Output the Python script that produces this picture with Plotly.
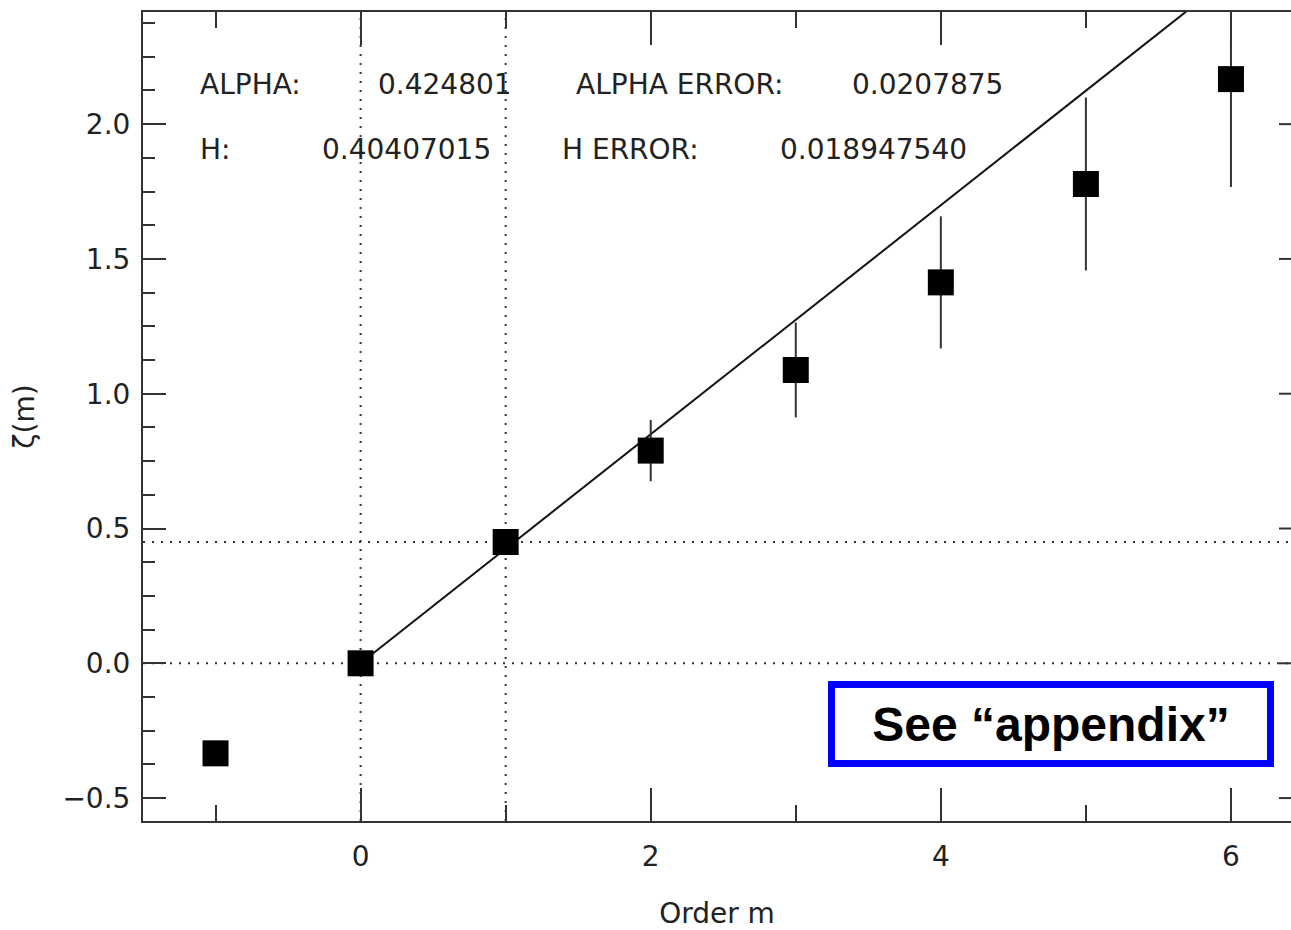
import plotly.graph_objects as go

# Data
order_m = [-1, 0, 1, 2, 3, 4, 5, 6]
zeta_m = [-0.334, 0.0, 0.450, 0.789, 1.088, 1.413, 1.778, 2.167]
zeta_err = [0.0, 0.0, 0.03, 0.114, 0.176, 0.245, 0.321, 0.400]

alpha = 0.424801
alpha_err = 0.0207875
h_val = 0.40407015
h_err = 0.018947540

fit_x = [0, 6.414]
fit_y = [alpha * v for v in fit_x]

x_range = [-1.5, 6.414]
y_range = [-0.585, 2.416]
y_major = [-0.5, 0.0, 0.5, 1.0, 1.5, 2.0]

FONT = "DejaVu Sans, sans-serif"
BOLD = "Liberation Sans, Arial, sans-serif"
INK = "#222222"
AX = "#333333"
FS = 28

fig = go.Figure()

fig.add_trace(go.Scatter(
    x=fit_x, y=fit_y, mode="lines",
    line=dict(color="#111111", width=2),
    showlegend=False, hoverinfo="skip",
))

fig.add_trace(go.Scatter(
    x=order_m, y=zeta_m, mode="markers",
    marker=dict(symbol="square", size=26, color="black", line=dict(width=0)),
    error_y=dict(type="data", array=zeta_err, visible=True, width=0,
                 thickness=2, color="#333333"),
    showlegend=False,
))

dot = "2px,7px"
# reference dotted lines
for xv in [0, 1]:
    fig.add_shape(type="line", xref="x", yref="paper", x0=xv, x1=xv, y0=0, y1=1,
                  line=dict(color=AX, width=2, dash=dot), layer="below")
for yv in [0.0, zeta_m[2]]:
    fig.add_shape(type="line", xref="paper", yref="y", x0=0, x1=1, y0=yv, y1=yv,
                  line=dict(color=AX, width=2, dash=dot), layer="below")

# right-side tick stubs (right axis lies just beyond the visible canvas)
for yv in y_major:
    fig.add_shape(type="line", xref="paper", yref="y", x0=1 - 12 / 1148, x1=1,
                  y0=yv, y1=yv, line=dict(color=AX, width=2))

# text annotations
def txt(s, xpx, ypx):
    fig.add_annotation(text=s, xref="paper", yref="paper",
                       x=(xpx - 143) / 1148, y=1 - (ypx - 12) / 809,
                       xanchor="left", yanchor="middle", showarrow=False,
                       font=dict(family=FONT, size=FS, color=INK))

txt("ALPHA:", 198, 84)
txt(f"{alpha:.6f}", 376, 84)
txt("ALPHA ERROR:", 574, 84)
txt(f"{alpha_err:.7f}", 850, 84)
txt("H:", 198, 149)
txt(f"{h_val:.8f}", 320, 149)
txt("H ERROR:", 560, 149)
txt(f"{h_err:.9f}", 778, 149)

fig.add_annotation(
    text="<b>See “appendix”</b>", xref="paper", yref="paper",
    x=(1051 - 143) / 1148, y=1 - (724 - 12) / 809,
    xanchor="center", yanchor="middle", showarrow=False,
    width=432, height=72, borderwidth=7, borderpad=0,
    bordercolor="#0000FF", bgcolor="white",
    font=dict(family=BOLD, size=48, color="black"),
)

fig.update_layout(
    width=1291, height=930,
    margin=dict(l=143, r=0, t=12, b=109),
    paper_bgcolor="white", plot_bgcolor="white",
    font=dict(family=FONT, size=FS, color=INK),
    showlegend=False,
)

fig.update_xaxes(
    range=x_range, showgrid=False, zeroline=False,
    showline=True, linecolor=AX, linewidth=2, mirror="ticks",
    ticks="inside", ticklen=33, tickwidth=2, tickcolor=AX,
    tickmode="array", tickvals=[0, 2, 4, 6], ticktext=["0", "2", "4", "6"],
    minor=dict(ticks="inside", ticklen=16, tickwidth=2, tickcolor=AX,
               tickmode="array", tickvals=[-1, 1, 3, 5], showgrid=False),
    tickfont=dict(family=FONT, size=FS, color=INK),
    ticklabelstandoff=9,
    title=dict(text="Order m", font=dict(family=FONT, size=FS, color=INK), standoff=34),
)

fig.update_yaxes(
    range=y_range, showgrid=False, zeroline=False,
    showline=True, linecolor=AX, linewidth=2, mirror=False,
    ticks="inside", ticklen=23, tickwidth=2, tickcolor=AX,
    tickmode="array", tickvals=y_major, ticktext=[f"{v:.1f}".replace("-", "−") for v in y_major],
    minor=dict(ticks="inside", ticklen=12, tickwidth=2, tickcolor=AX,
               dtick=0.125, tick0=0, showgrid=False),
    tickfont=dict(family=FONT, size=FS, color=INK),
    ticklabelstandoff=5,
    title=dict(text="ζ(m)", font=dict(family=FONT, size=FS, color=INK), standoff=20),
)

fig.write_html("out.html")
